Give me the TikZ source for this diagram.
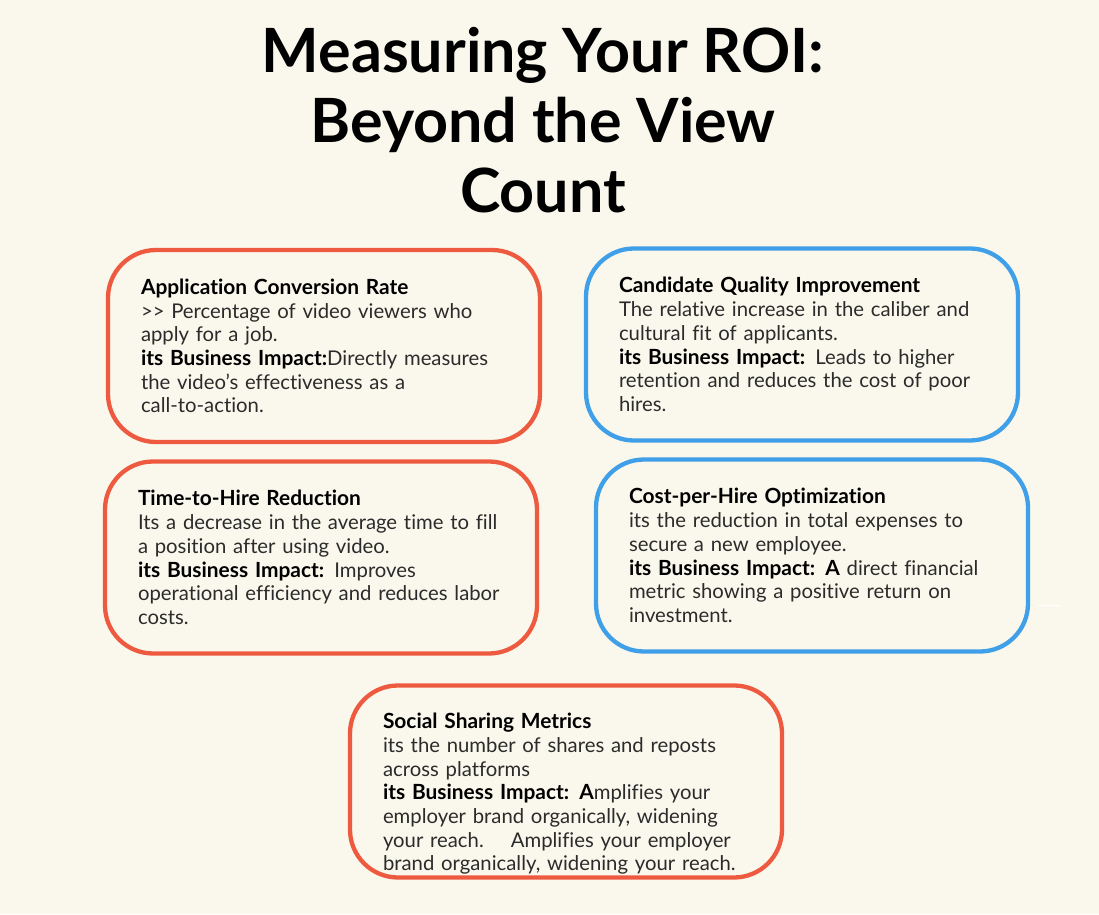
\documentclass[tikz,border=0pt]{standalone}
\usepackage{fontspec}
\setmainfont{Lato}[Ligatures=NoCommon]
\definecolor{paper}{HTML}{FAF8EC}
\definecolor{redline}{HTML}{EE5A40}
\definecolor{blueline}{HTML}{3F9FE8}
\definecolor{inktext}{HTML}{2B2B2B}
\tikzset{
	metric/.style={draw, line width=4.3pt, rounded corners=48pt, minimum width=432pt, minimum height=192pt, text width=366pt, inner xsep=33pt, inner ysep=0pt, align=left, text=inktext, font=\fontsize{20.3}{23.7}\selectfont},
	redbox/.style={metric, draw=redline},
	bluebox/.style={metric, draw=blueline},
	heading/.style={font=\fontsize{61}{70}\selectfont\bfseries, align=center, text=black}
}
\newcommand{\hd}[1]{{\fontsize{20.9}{23.7}\selectfont\bfseries\textcolor{black}{#1}}}
\begin{document}
\begin{tikzpicture}[x=1pt, y=1pt]
	\useasboundingbox[fill=paper] (0,0) rectangle (1099,914);

	\node[heading] (title) at (543, 794) {Measuring Your ROI:\\Beyond the View\\Count};

	\node[redbox] (conversion) at (324, 568) {\hd{Application Conversion Rate}\\
		>{}> Percentage of video viewers who\\
		apply for a job.\\
		\hd{its Business Impact:}Directly measures\\
		the video's effectiveness as a\\
		call-to-action.};
	\node[bluebox] (quality) at (802, 569.5) {\hd{Candidate Quality Improvement}\\
		The relative increase in the caliber and\\
		cultural fit of applicants.\\
		\hd{its Business Impact:} Leads to higher\\
		retention and reduces the cost of poor\\
		hires.};
	\node[redbox] (time) at (321, 356.5) {\hd{Time-to-Hire Reduction}\\
		Its a decrease in the average time to fill\\
		a position after using video.\\
		\hd{its Business Impact:} Improves\\
		operational efficiency and reduces labor\\
		costs.};
	\node[bluebox] (cost) at (812, 358.5) {\hd{Cost-per-Hire Optimization}\\
		its the reduction in total expenses to\\
		secure a new employee.\\
		\hd{its Business Impact: A} direct financial\\
		metric showing a positive return on\\
		investment.};
	% the text of this box sits one half line low
	\node[redbox] (social) at (566, 132.5) {\strut\\
		\hd{Social Sharing Metrics}\\
		its the number of shares and reposts\\
		across platforms\\
		\hd{its Business Impact: A}mplifies your\\
		employer brand organically, widening\\
		your reach.\ \ \ \ Amplifies your employer\\
		brand organically, widening your reach.};

	% stray mark right of the cost box
	\draw[white, line width=1.2pt] (1038, 308.5) -- (1060, 308.5);
\end{tikzpicture}
\end{document}
